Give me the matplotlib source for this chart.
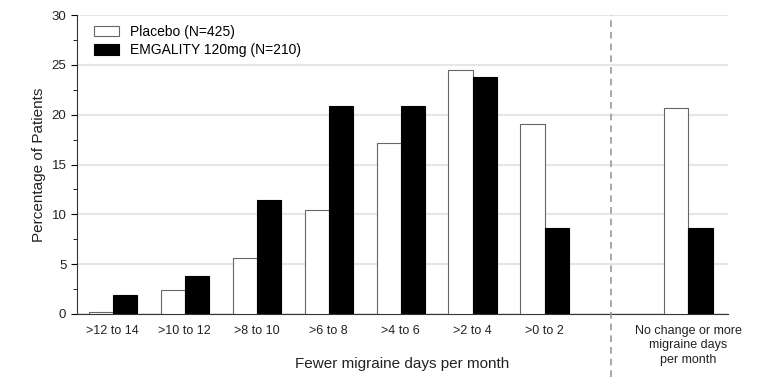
import numpy as np
import matplotlib.pyplot as plt
from matplotlib.ticker import MultipleLocator

plt.rcParams['font.family'] = ['Liberation Sans', 'DejaVu Sans']

# data
categories = ['>12 to 14', '>10 to 12', '>8 to 10', '>6 to 8', '>4 to 6',
              '>2 to 4', '>0 to 2', 'No change or more\nmigraine days\nper month']
placebo = [0.2, 2.4, 5.6, 10.4, 17.2, 24.5, 19.1, 20.7]
emgality = [1.9, 3.8, 11.4, 20.9, 20.9, 23.8, 8.6, 8.6]
x = np.array([0, 1, 2, 3, 4, 5, 6, 8])
w = 0.335

fig = plt.figure(figsize=(7.6, 3.89), dpi=100)
ax = fig.add_axes([0.101, 0.193, 0.857, 0.768])

ax.bar(x - w/2, placebo, w, color='white', edgecolor='#666666', linewidth=0.8,
       label='Placebo (N=425)', zorder=3)
ax.bar(x + w/2, emgality, w, color='black', edgecolor='black', linewidth=0.8,
       label='EMGALITY 120mg (N=210)', zorder=3)

ax.set_xlim(-0.5, 8.55)
ax.set_ylim(0, 30)
ax.yaxis.set_major_locator(MultipleLocator(5))
ax.yaxis.set_minor_locator(MultipleLocator(2.5))
ax.grid(axis='y', color='#e6e6e6', linewidth=1.5, zorder=0)
ax.set_xticks(x)
ax.set_xticklabels(categories, fontsize=9, color='#222222', linespacing=1.25)
ax.tick_params(axis='x', length=0, pad=8)
ax.tick_params(axis='y', labelsize=9.5, labelcolor='#222222', length=4)
ax.tick_params(axis='y', which='minor', length=3)

for s in ['top', 'right']:
    ax.spines[s].set_visible(False)
ax.spines['left'].set_color('#333333')
ax.spines['bottom'].set_color('#333333')

# dashed separator
ax.plot([6.93, 6.93], [-0.21, 1.0], transform=ax.get_xaxis_transform(),
        color='#999999', linestyle=(0, (4, 3)), linewidth=1.2, clip_on=False, zorder=4)

ax.set_ylabel('Percentage of Patients', fontsize=11, color='#222222')
ax.set_xlabel('Fewer migraine days per month', fontsize=11, color='#222222')
ax.xaxis.set_label_coords(0.5, -0.145)

ax.legend(loc='upper left', frameon=False, fontsize=10, handlelength=1.8,
          handleheight=0.8, borderaxespad=0.3, labelspacing=0.3,
          bbox_to_anchor=(0.012, 1.0))

fig.savefig('out.png', dpi=100)
